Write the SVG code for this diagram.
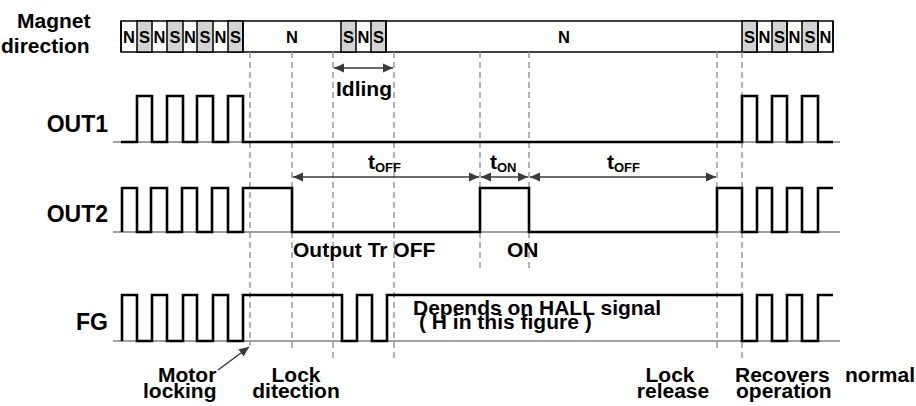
<svg xmlns="http://www.w3.org/2000/svg" width="916" height="406" viewBox="0 0 916 406">
<defs>
<marker id="ah" viewBox="0 0 10 10" refX="10" refY="5" markerWidth="10" markerHeight="10" markerUnits="userSpaceOnUse" orient="auto-start-reverse">
<path d="M0,0.5 L10,5 L0,9.5 Z" fill="#3a3a3a"/>
</marker>
</defs>
<style>
text{font-family:"Liberation Sans",Arial,sans-serif;font-weight:bold;fill:#000}
.lbl{font-size:21px}
.sig{font-size:23px}
.cell{font-size:16.5px;text-anchor:middle}
.sub{font-size:13px}
.base{stroke:#808080;stroke-width:1.5;fill:none}
.wave{stroke:#000;stroke-width:2.6;fill:none;stroke-linejoin:miter}
.dash{stroke:#9a9a9a;stroke-width:1.5;stroke-dasharray:6 4;fill:none}
.arr{stroke:#3a3a3a;stroke-width:1.5;fill:none;marker-start:url(#ah);marker-end:url(#ah)}
.bar{stroke:#000;stroke-width:1.5}
</style>
<rect width="916" height="406" fill="#fff"/>

<g id="magnet">
<text class="lbl"><tspan x="17" y="28">Magnet</tspan><tspan x="1" y="53">direction</tspan></text>
<rect class="bar" x="121" y="21" width="712" height="31" fill="#fff"/>
<g fill="#d3d3d3" class="bar">
<rect x="137" y="21" width="15" height="31"/>
<rect x="167" y="21" width="16" height="31"/>
<rect x="197" y="21" width="16" height="31"/>
<rect x="228" y="21" width="15" height="31"/>
<rect x="341" y="21" width="15" height="31"/>
<rect x="371" y="21" width="15" height="31"/>
<rect x="742" y="21" width="15" height="31"/>
<rect x="772" y="21" width="15" height="31"/>
<rect x="802" y="21" width="16" height="31"/>
</g>
<path class="bar" d="M121,21V52M243,21V52M386,21V52M757,21V52M787,21V52M818,21V52M833,21V52" fill="none"/>
<text class="cell" x="129" y="42.5">N</text>
<text class="cell" x="144.5" y="42.5">S</text>
<text class="cell" x="159.5" y="42.5">N</text>
<text class="cell" x="175" y="42.5">S</text>
<text class="cell" x="190" y="42.5">N</text>
<text class="cell" x="205" y="42.5">S</text>
<text class="cell" x="220.5" y="42.5">N</text>
<text class="cell" x="235.5" y="42.5">S</text>
<text class="cell" x="292" y="42.5">N</text>
<text class="cell" x="348.5" y="42.5">S</text>
<text class="cell" x="363.5" y="42.5">N</text>
<text class="cell" x="378.5" y="42.5">S</text>
<text class="cell" x="564" y="42.5">N</text>
<text class="cell" x="749.5" y="42.5">S</text>
<text class="cell" x="764.5" y="42.5">N</text>
<text class="cell" x="779.5" y="42.5">S</text>
<text class="cell" x="794.5" y="42.5">N</text>
<text class="cell" x="810" y="42.5">S</text>
<text class="cell" x="825.5" y="42.5">N</text>
</g>

<g id="guides">
<path class="dash" d="M250,52V346M292,52V348M333,52V362M394,52V362M480,52V268M529,52V268M717,52V348M742,52V362"/>
</g>

<g id="out1">
<text class="sig" x="108" y="132" text-anchor="end">OUT1</text>
<path class="base" d="M113,142H840"/>
<path class="wave" d="M121,142H137V96H152V142H167V96H183V142H197V96H213V142H228V96H243V142H742V96H757V142H772V96H787V142H802V96H818V142H833"/>
</g>

<g id="out2">
<text class="sig" x="108" y="222" text-anchor="end">OUT2</text>
<path class="base" d="M113,232H840"/>
<path class="wave" d="M122,232V188H137V232H151V188H167V232H182V188H197V232H212V188H228V232H243V188H292V232H480V188H529V232H717V188H742V232H757V188H772V232H787V188H802V232H818V188H833"/>
<text class="lbl" x="293" y="257">Output Tr OFF</text>
<text class="lbl" x="507" y="257">ON</text>
</g>

<g id="fg">
<text class="sig" x="108" y="330" text-anchor="end">FG</text>
<path class="base" d="M113,341H840"/>
<path class="wave" d="M122,341V295H137V341H152V295H167V341H183V295H197V341H213V295H228V341H243V295H342V341H357V295H372V341H387V295H742V341H757V295H772V341H787V295H802V341H818V295H833"/>
<text class="lbl"><tspan x="413" y="315">Depends on HALL signal</tspan><tspan x="419" y="329">( H in this figure )</tspan></text>
</g>

<g id="connectors">
<path class="arr" d="M334,68H393"/>
<path class="arr" d="M293,177H479"/>
<path class="arr" d="M481,177H528"/>
<path class="arr" d="M530,177H716"/>
<path d="M218,370L249,347" stroke="#3a3a3a" stroke-width="1.5" fill="none" marker-end="url(#ah)"/>
</g>

<g id="labels">
<text class="lbl" x="336" y="96">Idling</text>
<text class="lbl" x="368" y="169">t<tspan class="sub" dy="3">OFF</tspan></text>
<text class="lbl" x="490" y="169">t<tspan class="sub" dy="3">ON</tspan></text>
<text class="lbl" x="607" y="169">t<tspan class="sub" dy="3">OFF</tspan></text>
<text class="lbl"><tspan x="158" y="382">Motor</tspan><tspan x="143" y="398">locking</tspan></text>
<text class="lbl" text-anchor="middle"><tspan x="296" y="382">Lock</tspan><tspan x="296" y="398">ditection</tspan></text>
<text class="lbl" text-anchor="middle"><tspan x="670" y="382">Lock</tspan><tspan x="673" y="398">release</tspan></text>
<text class="lbl"><tspan x="735" y="382">Recovers</tspan><tspan x="736" y="398">operation</tspan></text>
<text class="lbl" x="845" y="382">normal</text>
</g>
</svg>
